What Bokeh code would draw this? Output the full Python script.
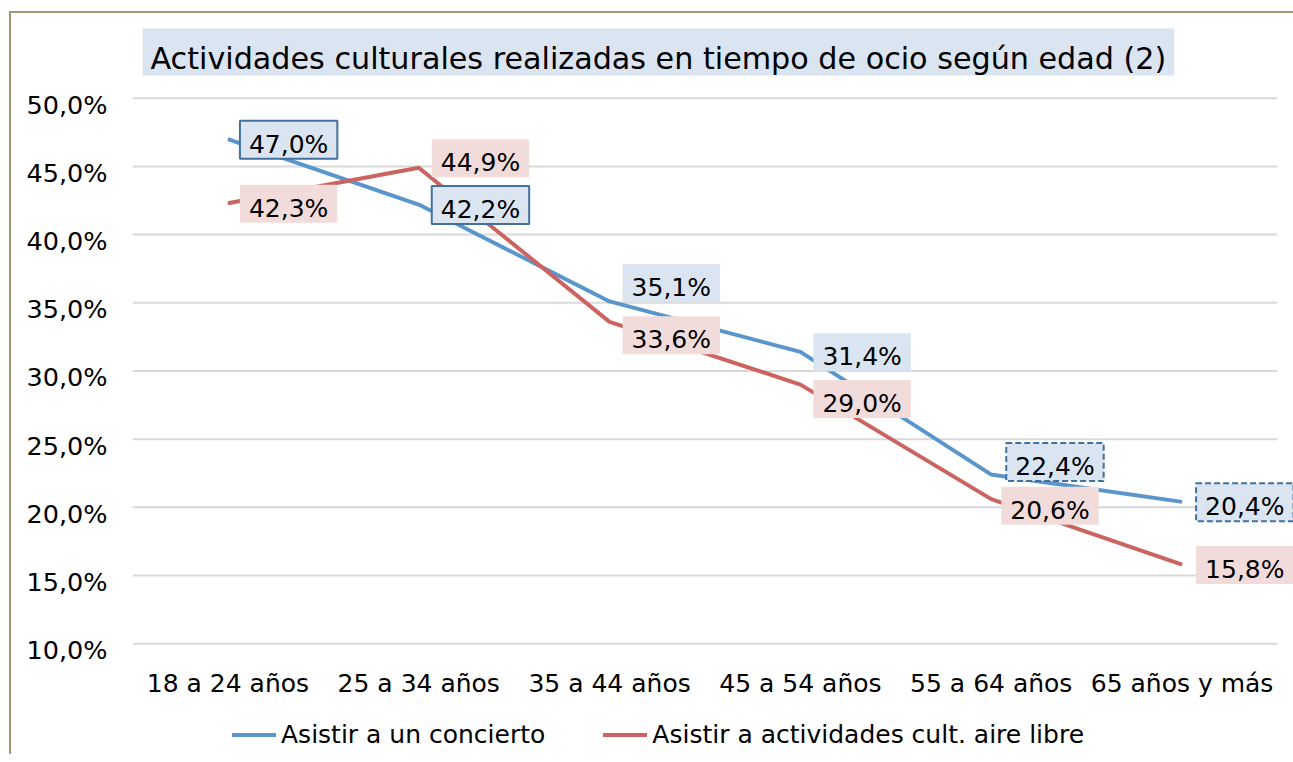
from bokeh.plotting import figure
from bokeh.layouts import column
from bokeh.models import Range1d, LinearAxis, FixedTicker, Label, Legend, LegendItem
from bokeh.embed import file_html
from bokeh.resources import INLINE

# ---- data ----
categories = ["18 a 24 años", "25 a 34 años", "35 a 44 años", "45 a 54 años", "55 a 64 años", "65 años y más"]
concierto = [47.0, 42.2, 35.1, 31.4, 22.4, 20.4]
aire_libre = [42.3, 44.9, 33.6, 29.0, 20.6, 15.8]
series_names = ["Asistir a un concierto", "Asistir a actividades cult. aire libre"]
y_ticks = [10, 15, 20, 25, 30, 35, 40, 45, 50]
title_text = "Actividades culturales realizadas en tiempo de ocio según edad (2)"

# ---- label layout (pixels): box left gap from point, box centre shift (down +) ----
blue_dx = [12, 13, 13, 13, 15, 14]
blue_dy = [0, 0, -19, 0, -13, 0]
blue_border = ["solid", "solid", None, None, "dashed", "dashed"]
red_dx = [12, 13, 13, 13, 10, 14]
red_dy = [0, -10, 13, 14, 6, 0]

BLUE = "#5a96cb"
RED = "#cb6460"
BLUE_BG = "#dbe5f1"
RED_BG = "#f2dcdb"
BORDER_BLUE = "#41719c"
FONT = "DejaVu Sans"

n = len(categories)
xs = [i + 0.5 for i in range(n)]
x_end = n + 16 / 190.83   # frame runs 16px past the last gridline end
x_range = Range1d(0, x_end)

def strip(h):
    f = figure(width=1282, height=h, output_backend="svg", toolbar_location=None,
               x_range=x_range, y_range=Range1d(0, 1),
               x_axis_location=None, y_axis_location=None,
               min_border_left=0, min_border_right=0, min_border_top=0, min_border_bottom=0)
    f.outline_line_color = None
    f.xgrid.visible = False
    f.ygrid.visible = False
    return f

# ---- title strip ----
pt = strip(72)
pt.add_layout(Label(x=0, y=1, x_offset=10, y_offset=-15, text=title_text,
                    text_align="left", text_baseline="top",
                    text_font=FONT, text_font_size="30.2px", text_color="black",
                    background_fill_color=BLUE_BG, border_line_color=None,
                    padding=dict(left=8, right=8, top=12, bottom=0)))

# ---- main chart ----
p = figure(width=1282, height=628, output_backend="svg", toolbar_location=None,
           x_range=x_range, y_range=Range1d(9.5, 50.2),
           min_border_left=121, min_border_right=0, min_border_top=10, min_border_bottom=63,
           title=None)
p.outline_line_color = None
p.background_fill_color = "white"
p.border_fill_color = "white"

# x axis
p.xaxis.ticker = FixedTicker(ticks=xs)
p.xaxis.major_label_overrides = {x: c for x, c in zip(xs, categories)}
p.xaxis.axis_line_color = None
p.xaxis.major_tick_line_color = None
p.xaxis.minor_tick_line_color = None
p.xaxis.major_tick_out = 0
p.xaxis.major_label_standoff = 18
p.xaxis.major_label_text_font = FONT
p.xaxis.major_label_text_font_size = "25px"
p.xaxis.major_label_text_color = "black"
p.xgrid.visible = False
p.ygrid.visible = False
p.yaxis.visible = False

# horizontal gridlines, ending at the last category band
p.segment(x0=[0] * len(y_ticks), y0=y_ticks, x1=[n] * len(y_ticks), y1=y_ticks,
          line_color="#d9d9d9", line_width=2)

# label axis slightly shifted so labels sit a little below their grid lines
shift = 0.477
p.extra_y_ranges = {"lab": Range1d(9.5 + shift, 50.2 + shift)}
yax = LinearAxis(y_range_name="lab", ticker=FixedTicker(ticks=y_ticks))
yax.major_label_overrides = {t: f"{t:.1f}".replace(".", ",") + "%" for t in y_ticks}
yax.axis_line_color = None
yax.major_tick_line_color = None
yax.minor_tick_line_color = None
yax.major_tick_out = 0
yax.major_label_standoff = 25
yax.major_label_text_font = FONT
yax.major_label_text_font_size = "25.5px"
yax.major_label_text_color = "black"
p.add_layout(yax, "left")

# lines
r1 = p.line(xs, concierto, line_color=BLUE, line_width=4)
r2 = p.line(xs, aire_libre, line_color=RED, line_width=4)

def fmt(v):
    return f"{v:.1f}".replace(".", ",") + "%"

pad = dict(left=9, right=9, top=9, bottom=0)
BOX_H = 37
for i, v in enumerate(aire_libre):
    p.add_layout(Label(x=xs[i], y=v, text=fmt(v), x_offset=red_dx[i], y_offset=BOX_H / 2 - red_dy[i],
                       text_align="left", text_baseline="top",
                       text_font=FONT, text_font_size="25px", text_color="black",
                       background_fill_color=RED_BG, border_line_color=None, padding=pad))
for i, v in enumerate(concierto):
    b = blue_border[i]
    lab = Label(x=xs[i], y=v, text=fmt(v), x_offset=blue_dx[i], y_offset=BOX_H / 2 - blue_dy[i],
                text_align="left", text_baseline="top",
                text_font=FONT, text_font_size="25px", text_color="black",
                background_fill_color=BLUE_BG, padding=pad)
    if b is None:
        lab.border_line_color = None
    else:
        lab.border_line_color = BORDER_BLUE
        lab.border_line_width = 2
        if b == "dashed":
            lab.border_line_dash = "6 3"
    p.add_layout(lab)

# ---- legend strip ----
p2 = strip(41)
# legend-only renderers: their points lie outside the strip's visible range
l1 = p2.line([-5, -4], [-5, -4], line_color=BLUE, line_width=4, line_cap="round")
l2 = p2.line([-5, -4], [-5, -4], line_color=RED, line_width=4, line_cap="round")
legend = Legend(items=[LegendItem(label=series_names[0], renderers=[l1]),
                       LegendItem(label=series_names[1], renderers=[l2])],
                orientation="horizontal", location=(100, 5),
                glyph_width=44, glyph_height=25, label_standoff=5, spacing=58,
                padding=0, margin=0, border_line_color=None, background_fill_alpha=0,
                label_text_font=FONT, label_text_font_size="25px", label_text_color="black")
p2.add_layout(legend, "center")

layout = column(pt, p, p2, spacing=0)
layout.styles = {"border-left": "2px solid #9c9a72", "border-top": "2px solid #9c9a72",
                 "margin-left": "9px", "margin-top": "11px"}

open("out.html", "w").write(file_html(layout, INLINE))
